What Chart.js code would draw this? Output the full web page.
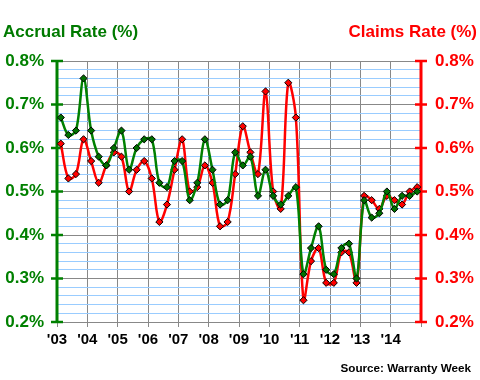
<!DOCTYPE html>
<html><head><meta charset="utf-8">
<script src="https://cdn.jsdelivr.net/npm/chart.js@4/dist/chart.umd.min.js"></script>
<style>html,body{margin:0;padding:0;background:#fff;}#wrap{width:480px;height:380px;}</style>
</head><body><div id="wrap"><canvas id="c" width="480" height="380"></canvas></div>
<script>
const years = ["'03","'04","'05","'06","'07","'08","'09","'10","'11","'12","'13","'14"];
const startYear = 2003;
const quartersPerYear = 4;
const accrual = [0.67,0.63,0.64,0.76, 0.64,0.58,0.56,0.60, 0.64,0.55,0.60,0.62,
  0.62,0.52,0.51,0.57, 0.57,0.48,0.52,0.62, 0.55,0.47,0.48,0.59,
  0.56,0.58,0.49,0.55, 0.49,0.47,0.49,0.51, 0.31,0.37,0.42,0.32,
  0.31,0.37,0.38,0.30, 0.48,0.44,0.45,0.50, 0.46,0.49,0.49,0.50];
const claims = [0.61,0.53,0.54,0.62, 0.57,0.52,0.56,0.59, 0.58,0.50,0.55,0.57,
  0.53,0.43,0.47,0.55, 0.62,0.50,0.51,0.56, 0.52,0.42,0.43,0.54,
  0.65,0.59,0.54,0.73, 0.50,0.46,0.75,0.67, 0.25,0.34,0.37,0.29,
  0.29,0.36,0.36,0.29, 0.49,0.48,0.46,0.49, 0.48,0.47,0.50,0.51];
const yTicks = [0.2,0.3,0.4,0.5,0.6,0.7,0.8];

const GREEN = '#008000', RED = '#ff0000';
const FONT = "'Liberation Sans', Arial, sans-serif";
const toPts = arr => arr.map((v,i)=>({x: startYear + (i+0.5)/quartersPerYear, y: v}));
const isMajor = v => yTicks.some(t => Math.abs(t - v) < 1e-6);

const axesPlugin = {
  id:'axes',
  beforeDatasetsDraw(chart){
    const ctx = chart.ctx, a = chart.chartArea;
    const yl = chart.scales.y, yr = chart.scales.y2;
    ctx.save();
    [[a.left, GREEN, yl],[a.right, RED, yr]].forEach(([x,col,sc])=>{
      ctx.strokeStyle = col; ctx.lineWidth = 3;
      ctx.beginPath(); ctx.moveTo(x, a.top-1); ctx.lineTo(x, a.bottom+1); ctx.stroke();
      ctx.lineWidth = 2.5;
      yTicks.forEach(t=>{
        const y = sc.getPixelForValue(t);
        ctx.beginPath(); ctx.moveTo(x-6, y); ctx.lineTo(x+6, y); ctx.stroke();
      });
    });
    ctx.restore();
  },
  afterDraw(chart){
    const ctx = chart.ctx;
    ctx.save();
    ctx.textBaseline = 'alphabetic';
    ctx.font = "bold 17px " + FONT;
    ctx.fillStyle = '#007a00'; ctx.textAlign = 'left';
    ctx.fillText('Accrual Rate (%)', 3, 37);
    ctx.fillStyle = RED; ctx.textAlign = 'right';
    ctx.fillText('Claims Rate (%)', 477, 37);
    ctx.font = "bold 11.7px " + FONT;
    ctx.fillStyle = '#000'; ctx.textBaseline = 'middle';
    ctx.fillText('Source: Warranty Week', 471, 369);
    ctx.restore();
  }
};

new Chart(document.getElementById('c'), {
  type:'line',
  data:{datasets:[
    {label:'Accrual Rate (%)', data: toPts(accrual), yAxisID:'y', borderColor:GREEN, borderWidth:2.5,
      pointStyle:'rectRot', pointRadius:3.6, pointBackgroundColor:'#007000', pointBorderColor:'#000', pointBorderWidth:1,
      tension:0.35, fill:false},
    {label:'Claims Rate (%)', data: toPts(claims), yAxisID:'y2', borderColor:RED, borderWidth:2.5,
      pointStyle:'rectRot', pointRadius:3.6, pointBackgroundColor:RED, pointBorderColor:'#000', pointBorderWidth:1,
      tension:0.35, fill:false}
  ]},
  options:{
    responsive:false, animation:false, devicePixelRatio:1,
    layout:{padding:{top:61,left:0,right:0,bottom:0}},
    plugins:{legend:{display:false}, tooltip:{enabled:false}},
    scales:{
      x:{type:'linear', min:startYear, max:startYear+years.length, position:'bottom',
        ticks:{stepSize:1, autoSkip:false, maxRotation:0, padding:4, color:'#000',
          font:{family:FONT, weight:'bold', size:15},
          callback:(v)=> years[Math.round(v)-startYear] ?? ''},
        grid:{color:'#888', lineWidth:1, tickLength:5, drawTicks:true},
        border:{display:true, color:'#888'},
        afterFit:(s)=>{ s.height = 58; }},
      y:{position:'left', min:0.2, max:0.8,
        ticks:{stepSize:0.02, autoSkip:false, padding:13, color:GREEN,
          font:{family:FONT, weight:'bold', size:17},
          callback:(v)=> isMajor(v) ? v.toFixed(1)+'%' : ''},
        grid:{drawTicks:false, color:(c)=> isMajor(c.tick.value) ? '#888' : '#99ccff', lineWidth:1},
        border:{display:false},
        afterFit:(s)=>{ s.width = 57; }},
      y2:{position:'right', min:0.2, max:0.8,
        ticks:{stepSize:0.02, autoSkip:false, padding:14, color:RED,
          font:{family:FONT, weight:'bold', size:17},
          callback:(v)=> isMajor(v) ? v.toFixed(1)+'%' : ''},
        grid:{drawOnChartArea:false, drawTicks:false},
        border:{display:false},
        afterFit:(s)=>{ s.width = 59; }}
    }
  },
  plugins:[axesPlugin]
});
</script></body></html>
